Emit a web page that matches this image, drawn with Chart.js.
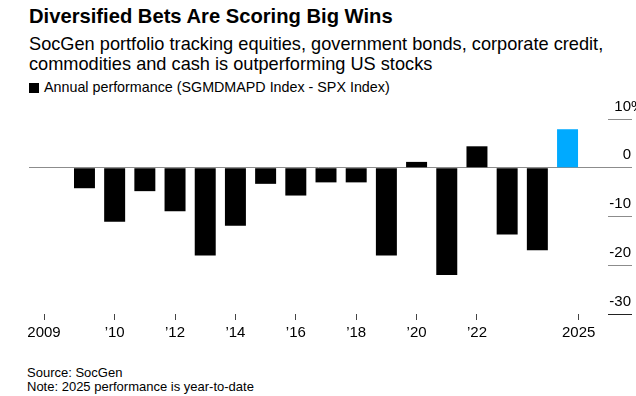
<!DOCTYPE html>
<html>
<head>
<meta charset="utf-8">
<script src="https://cdn.jsdelivr.net/npm/chart.js@4.4.1/dist/chart.umd.min.js"></script>
<style>
  body { margin: 0; width: 636px; height: 396px; background: #fff; font-family: "Liberation Sans", Arial, sans-serif; color: #000; position: relative; overflow: hidden; }
  #title { position: absolute; left: 29px; top: 5px; font-size: 20.2px; font-weight: bold; }
  #subtitle { position: absolute; left: 29px; top: 34px; font-size: 18.2px; line-height: 20px; }
  #legend { position: absolute; left: 29px; top: 79px; font-size: 14.3px; }
  #legend span { display: inline-block; width: 10px; height: 10px; background: #000; margin-right: 5px; vertical-align: -1px; }
  #footer { position: absolute; left: 27px; top: 366px; font-size: 13px; line-height: 14px; }
  #chart-box { position: absolute; left: 0; top: 96px; width: 636px; height: 250px; }
</style>
</head>
<body>
<div id="title">Diversified Bets Are Scoring Big Wins</div>
<div id="subtitle">SocGen portfolio tracking equities, government bonds, corporate credit,<br>commodities and cash is outperforming US stocks</div>
<div id="legend"><span></span>Annual performance (SGMDMAPD Index - SPX Index)</div>
<div id="chart-box"><canvas id="chart"></canvas></div>
<div id="footer">Source: SocGen<br>Note: 2025 performance is year-to-date</div>

<script>
'use strict';

// ***** DATA *****
let years = [2009, 2010, 2011, 2012, 2013, 2014, 2015, 2016, 2017, 2018, 2019, 2020, 2021, 2022, 2023, 2024, 2025];
let performance = [-4.2, -11.1, -4.8, -8.9, -18.0, -11.9, -3.3, -5.7, -3.0, -3.0, -18.0, 1.2, -22.0, 4.4, -13.7, -16.9, 7.9];
let yTicks = [10, 0, -10, -20, -30];
// x tick positions (in years) and their labels; first and last sit off the bars, as in the original
let xTickValues = [2007.66, 2010, 2012, 2014, 2016, 2018, 2020, 2022, 2025.37];
let xTickLabels = ['2009', '\u201910', '\u201912', '\u201914', '\u201916', '\u201918', '\u201920', '\u201922', '2025'];

const FONT = '"Liberation Sans", Arial, sans-serif';

// ***** HELPERS *****
function barColor(ctx){
  let year = years[ctx.dataIndex];
  return year === 2025 ? '#00aaff' : '#000000';
}

// y labels sit above their tick marks, right-aligned; the % hangs past the numbers
let yLabels = {
  id: 'yLabels',
  afterDraw(chart){
    let yScale = chart.scales.y;
    let ctx = chart.ctx;
    let x = yScale.left + 23;
    ctx.save();
    ctx.font = '15px ' + FONT;
    ctx.fillStyle = '#000';
    ctx.textBaseline = 'middle';
    yScale.ticks.forEach(t => {
      let y = yScale.getPixelForValue(t.value) - 12.5;
      ctx.textAlign = 'right';
      ctx.fillText(String(t.value), x, y);
      if(t.value === yTicks[0]){
        ctx.textAlign = 'left';
        ctx.fillText('%', x, y);
      }
    });
    ctx.restore();
  }
};

// ***** CHART *****
let points = [];
for(let i = 0; i < years.length; i++){
  points.push({x: years[i], y: performance[i]});
}

const canvasElem = document.getElementById('chart');

new Chart(canvasElem, {
  type: 'bar',
  data: {
    datasets: [{
      label: 'Annual performance (SGMDMAPD Index - SPX Index)',
      data: points,
      backgroundColor: barColor,
      borderWidth: 0,
      barPercentage: 0.695,
      categoryPercentage: 1
    }]
  },
  plugins: [yLabels],
  options: {
    responsive: true,
    maintainAspectRatio: false,
    animation: false,
    layout: {
      padding: {left: 29, right: 4, top: 23, bottom: 0}
    },
    plugins: {
      legend: {display: false},
      tooltip: {enabled: false}
    },
    scales: {
      x: {
        type: 'linear',
        min: 2007.163,
        max: 2026.34,
        offset: false,
        border: {display: false},
        grid: {
          offset: false,
          drawOnChartArea: false,
          drawTicks: true,
          tickLength: 6,
          tickColor: '#444'
        },
        afterBuildTicks(scale){
          scale.ticks = xTickValues.map(v => ({value: v}));
        },
        ticks: {
          autoSkip: false,
          maxRotation: 0,
          padding: 4,
          color: '#000',
          font: {family: FONT, size: 15},
          callback(value){
            let idx = xTickValues.indexOf(value);
            return idx === -1 ? '' : xTickLabels[idx];
          }
        }
      },
      y: {
        position: 'right',
        min: -30,
        max: 10,
        border: {display: false},
        afterBuildTicks(scale){
          scale.ticks = yTicks.map(v => ({value: v}));
        },
        grid: {
          drawOnChartArea: true,
          drawTicks: true,
          tickLength: 24,
          color(ctx){
            return ctx.tick && ctx.tick.value === 0 ? '#8c8c8c' : 'rgba(0,0,0,0)';
          },
          tickColor(ctx){
            return ctx.tick && ctx.tick.value === -30 ? '#222' : '#8c8c8c';
          }
        },
        ticks: {
          display: false
        }
      }
    }
  }
});
</script>
</body>
</html>
